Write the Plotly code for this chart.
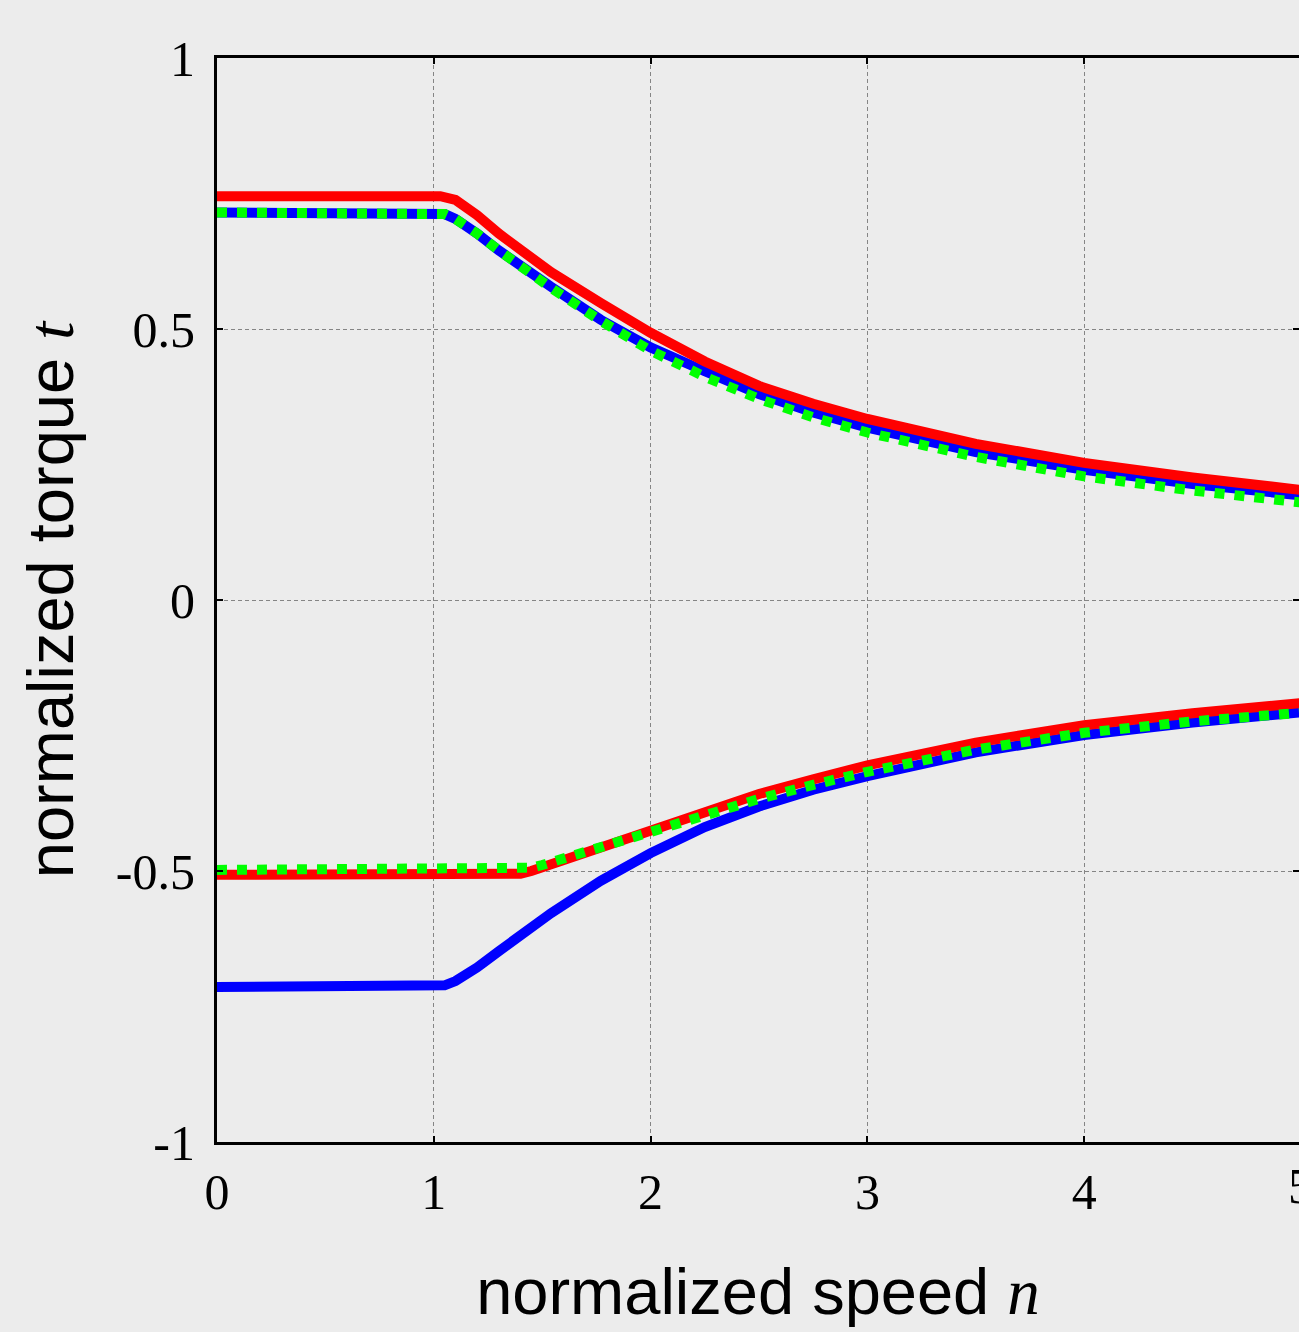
import plotly.graph_objects as go

# ---- data ----
red_up_n = [0, 1.03, 1.1, 1.15, 1.2, 1.3, 1.4, 1.54, 1.77, 2.0, 2.25, 2.5, 2.75, 3.0, 3.5, 4.0, 4.5, 5.0]
red_up_t = [0.745, 0.745, 0.738, 0.725, 0.710, 0.676, 0.645, 0.605, 0.548, 0.493, 0.440, 0.395, 0.362, 0.334, 0.288, 0.253, 0.226, 0.203]

blue_up_n = [0, 1.0, 1.05, 1.1, 1.15, 1.2, 1.3, 1.4, 1.54, 1.77, 2.0, 2.25, 2.5, 2.75, 3.0, 3.5, 4.0, 4.5, 5.0]
blue_up_t = [0.715, 0.715, 0.712, 0.703, 0.690, 0.676, 0.645, 0.615, 0.578, 0.517, 0.466, 0.422, 0.380, 0.346, 0.318, 0.273, 0.240, 0.214, 0.193]

green_up_n = [0, 1.0, 1.05, 1.1, 1.15, 1.2, 1.3, 1.4, 1.54, 1.77, 2.0, 2.25, 2.5, 2.75, 3.0, 3.5, 4.0, 4.5, 5.0]
green_up_t = [0.715, 0.715, 0.712, 0.703, 0.690, 0.676, 0.645, 0.614, 0.576, 0.515, 0.460, 0.412, 0.371, 0.337, 0.309, 0.264, 0.228, 0.202, 0.180]

blue_lo_n = [0, 1.0, 1.05, 1.1, 1.15, 1.2, 1.3, 1.4, 1.54, 1.77, 2.0, 2.25, 2.5, 2.75, 3.0, 3.5, 4.0, 4.5, 5.0]
blue_lo_t = [-0.714, -0.714, -0.711, -0.703, -0.692, -0.678, -0.648, -0.618, -0.578, -0.518, -0.467, -0.419, -0.381, -0.350, -0.325, -0.281, -0.249, -0.226, -0.207]

red_lo_n = [0, 1.35, 1.4, 1.45, 1.5, 1.58, 1.77, 2.0, 2.25, 2.5, 2.75, 3.0, 3.5, 4.0, 4.5, 5.0]
red_lo_t = [-0.507, -0.507, -0.505, -0.500, -0.493, -0.482, -0.457, -0.424, -0.390, -0.358, -0.331, -0.305, -0.263, -0.231, -0.209, -0.190]

green_lo_n = [0, 1.35, 1.4, 1.45, 1.5, 1.58, 1.77, 2.0, 2.25, 2.5, 2.75, 3.0, 3.5, 4.0, 4.5, 5.0]
green_lo_t = [-0.498, -0.498, -0.497, -0.494, -0.489, -0.479, -0.456, -0.425, -0.395, -0.367, -0.341, -0.317, -0.276, -0.245, -0.224, -0.208]

x_ticks = [0, 1, 2, 3, 4, 5]
x_tick_text = ["0", "1", "2", "3", "4", "5"]
y_ticks = [-1, -0.5, 0, 0.5, 1]
y_tick_text = ["-1", "-0.5", "0", "0.5", "1"]

BLUE = "#0000ff"
RED = "#ff0000"
GREEN = "#00ff00"
LW = 10

fig = go.Figure()
for xs, ys, col, dash in [
    (blue_up_n, blue_up_t, BLUE, "solid"),
    (blue_lo_n, blue_lo_t, BLUE, "solid"),
    (red_up_n, red_up_t, RED, "solid"),
    (red_lo_n, red_lo_t, RED, "solid"),
    (green_up_n, green_up_t, GREEN, "dot"),
    (green_lo_n, green_lo_t, GREEN, "dot"),
]:
    fig.add_trace(go.Scatter(x=xs, y=ys, mode="lines",
                             line=dict(color=col, width=LW, dash=dash),
                             showlegend=False, hoverinfo="skip"))

# dummy trace for the right-side tick axis
fig.add_trace(go.Scatter(x=[None], y=[None], yaxis="y2", showlegend=False, hoverinfo="skip"))

BG = "#ececec"
serif = "Liberation Serif, Times New Roman, serif"
sans = "Liberation Sans, Arial, sans-serif"

fig.update_layout(
    width=1299, height=1332,
    margin=dict(l=217, r=0, t=58, b=190),
    paper_bgcolor=BG, plot_bgcolor=BG,
    xaxis=dict(
        range=[0, 4.9908], tickvals=x_ticks, ticktext=x_tick_text,
        ticks="inside", ticklen=6, tickwidth=2, tickcolor="black",
        showline=True, linecolor="black", linewidth=3, mirror="ticks",
        showgrid=True, gridcolor="#858585", gridwidth=1, griddash="4px,3px",
        zeroline=False,
        tickfont=dict(family=serif, size=50, color="black"),
        ticklabelstandoff=4,
        title=dict(text="normalized speed <span style='font-family:Liberation Serif'><i>n</i></span>",
                   font=dict(family=sans, size=65, color="black"), standoff=50),
    ),
    yaxis=dict(
        range=[-1, 1], tickvals=y_ticks, ticktext=y_tick_text,
        ticks="inside", ticklen=6, tickwidth=2, tickcolor="black",
        showline=True, linecolor="black", linewidth=3, mirror=False,
        showgrid=True, gridcolor="#858585", gridwidth=1, griddash="4px,3px",
        zeroline=False,
        tickfont=dict(family=serif, size=50, color="black"),
        ticklabelstandoff=9,
        title=dict(text="normalized torque <span style='font-family:Liberation Serif'><i>t</i></span>",
                   font=dict(family=sans, size=65, color="black"), standoff=22),
    ),
    yaxis2=dict(
        range=[-1, 1], tickvals=y_ticks, overlaying="y", side="right", anchor="x",
        ticks="inside", ticklen=6, tickwidth=2, tickcolor="black",
        showline=False, showgrid=False, zeroline=False, showticklabels=False,
    ),
)

fig.add_annotation(text="5", xref="paper", yref="paper", x=1.0018, y=0,
                   yshift=-14, xanchor="center", yanchor="top", showarrow=False,
                   font=dict(family=serif, size=50, color="black"))

fig.write_html("out.html")
